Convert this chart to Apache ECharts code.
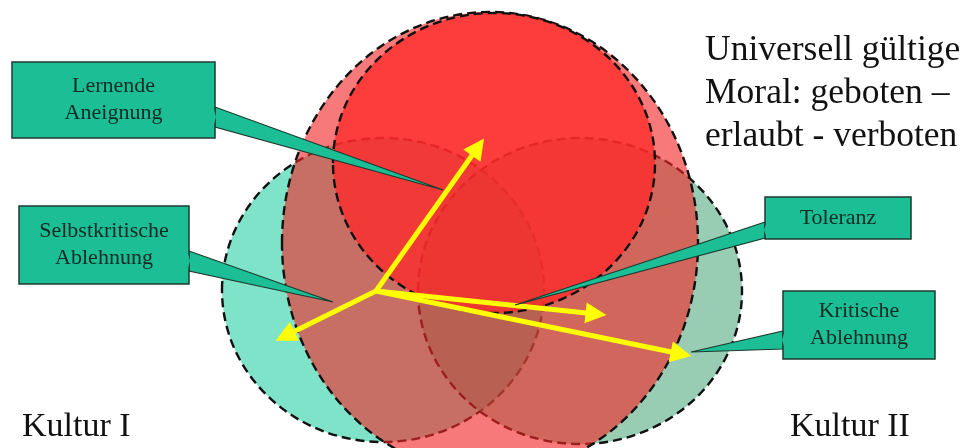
<!DOCTYPE html>
<html>
<head>
<meta charset="utf-8">
<script src="https://cdn.jsdelivr.net/npm/echarts@6/dist/echarts.min.js"></script>
<style>
html,body{margin:0;padding:0;background:#fff;}
#chart{width:969px;height:448px;}
</style>
</head>
<body>
<div id="chart"></div>
<script>
// ---- data ----
const shapeNames = ['Kultur I', 'Kultur II', 'Moral (Rahmen)', 'Universell gültige Moral'];
const centersX = [383, 580, 490, 494];
const centersY = [290, 291, 243, 163];
const radiiX = [161, 162, 208, 161];
const radiiY = [152, 153, 231, 150];
const shapeFills = ['rgba(0,200,150,0.5)', 'rgba(50,155,105,0.5)', 'rgba(244,38,38,0.62)', 'rgba(255,40,40,0.75)'];

// arrow start and arrowhead centres
const arrowOrigin = [376, 291];
const arrowTargets = [[478, 147], [285, 336], [596, 314], [681, 354]];

const calloutLabels = ['Lernende\nAneignung', 'Selbstkritische\nAblehnung', 'Toleranz', 'Kritische\nAblehnung'];
const calloutBoxes = [[12, 62, 215, 138], [19, 206, 189, 284], [765, 197, 911, 239], [783, 291, 935, 359]];
const calloutTails = [
  [[215, 107], [215, 127], [443, 190]],
  [[189, 251], [189, 271], [333, 302]],
  [[765, 222], [765, 238], [515, 305]],
  [[783, 331], [783, 349], [691, 352]]
];

const headingLines = ['Universell gültige', 'Moral: geboten –', 'erlaubt - verboten'];
const cultureLabels = ['Kultur I', 'Kultur II'];

// ---- chart ----
const chart = echarts.init(document.getElementById('chart'));
const serif = '"Liberation Serif", "Times New Roman", serif';

const ellipseData = shapeNames.map((n, i) => ({ name: n, value: [centersX[i], centersY[i], radiiX[i], radiiY[i], i] }));
const arrowData = arrowTargets.map(t => ({ coords: [arrowOrigin, t] }));
const calloutData = calloutLabels.map((l, i) => ({ name: l, value: [i] }));

const option = {
  animation: false,
  backgroundColor: '#ffffff',
  grid: { left: 0, right: 0, top: 0, bottom: 0 },
  xAxis: { type: 'value', min: 0, max: 969, show: false },
  yAxis: { type: 'value', min: 0, max: 448, inverse: true, show: false },
  series: [
    {
      type: 'custom',
      z: 1,
      data: ellipseData,
      renderItem: function (params, api) {
        const i = api.value(4);
        const c = api.coord([api.value(0), api.value(1)]);
        const s = api.size([api.value(2), api.value(3)]);
        return {
          type: 'ellipse',
          shape: { cx: c[0], cy: c[1], rx: s[0], ry: s[1] },
          style: { fill: shapeFills[i], stroke: '#111', lineWidth: 2.4, lineDash: [9, 5] }
        };
      }
    },
    {
      type: 'lines',
      coordinateSystem: 'cartesian2d',
      z: 3,
      data: arrowData,
      symbol: ['none', 'triangle'],
      symbolSize: [18, 21],
      lineStyle: { color: '#ffff00', width: 5, opacity: 1 },
      itemStyle: { color: '#ffff00' }
    },
    {
      type: 'custom',
      z: 5,
      data: calloutData,
      renderItem: function (params, api) {
        const i = api.value(0);
        const b = calloutBoxes[i];
        const p1 = api.coord([b[0], b[1]]);
        const p2 = api.coord([b[2], b[3]]);
        const tail = calloutTails[i].map(p => api.coord(p));
        const dx = i >= 2 ? 1.5 : -1.5;
        return {
          type: 'group',
          children: [
            {
              type: 'polygon',
              shape: { points: tail },
              style: { fill: '#1cbe96', stroke: '#1d3a30', lineWidth: 1.2 }
            },
            {
              type: 'rect',
              shape: { x: p1[0], y: p1[1], width: p2[0] - p1[0], height: p2[1] - p1[1] },
              style: { fill: '#1cbe96', stroke: '#1d3a30', lineWidth: 1.5 }
            },
            {
              type: 'polygon',
              shape: { points: [[tail[0][0] + dx, tail[0][1] + 1], [tail[1][0] + dx, tail[1][1] - 1], [tail[1][0] - dx * 0.7, (tail[0][1] + tail[1][1]) / 2]] },
              style: { fill: '#1cbe96' }
            },
            {
              type: 'text',
              x: (p1[0] + p2[0]) / 2,
              y: (p1[1] + p2[1]) / 2,
              style: {
                text: calloutLabels[i],
                font: '22px ' + serif,
                fill: '#102a24',
                align: 'center',
                verticalAlign: 'middle',
                lineHeight: 27
              }
            }
          ]
        };
      }
    }
  ],
  graphic: [
    {
      type: 'text', left: 705, top: 29, z: 10,
      style: { text: headingLines.join('\n'), font: '35.5px ' + serif, fill: '#111', lineHeight: 43 }
    },
    {
      type: 'text', left: 22, top: 410, z: 10,
      style: { text: cultureLabels[0], font: '34px ' + serif, fill: '#111' }
    },
    {
      type: 'text', left: 790, top: 410, z: 10,
      style: { text: cultureLabels[1], font: '34px ' + serif, fill: '#111' }
    }
  ]
};
chart.setOption(option);
</script>
</body>
</html>
